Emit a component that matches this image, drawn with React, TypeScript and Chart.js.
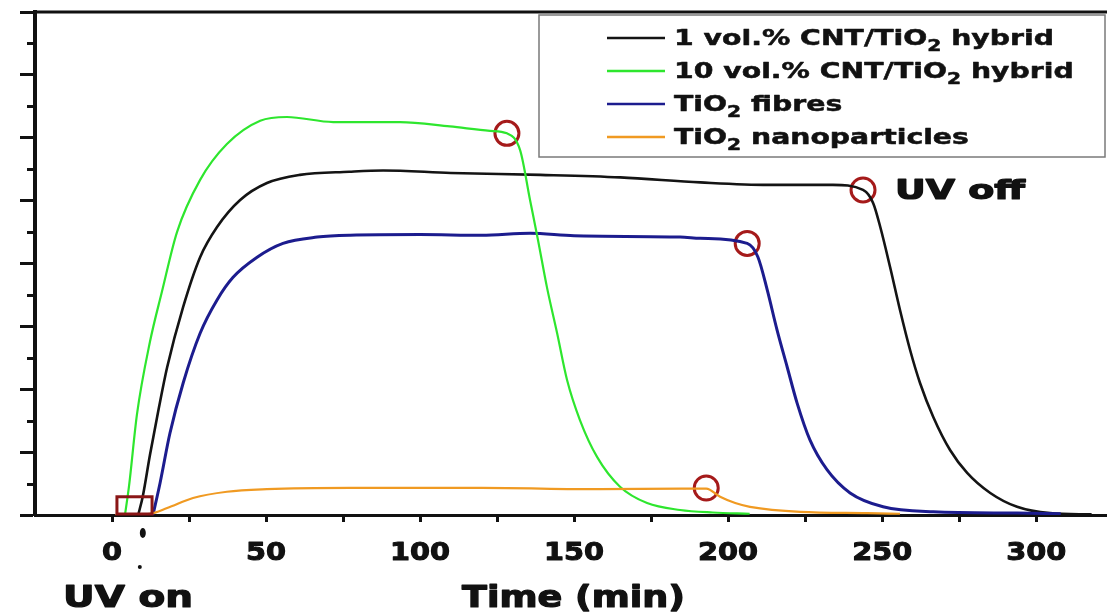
import React, { useEffect, useRef } from "react";
import { Chart, registerables } from "chart.js";

Chart.register(...registerables);

// ---- data (time in min, signal in arbitrary units) ----
const blackT = [8.5, 10, 12.3, 15, 17.9, 23.1, 28.6, 34.1, 41.6, 50.3, 61, 77, 88, 110, 139, 165, 191, 213, 234, 243.8, 247.1, 249.4, 252.6, 255.8, 259.1, 262.3, 266.6, 272.1, 277.6, 285.1, 293.8, 304.5, 318];
const blackV = [0, 0.3, 0.95, 1.65, 2.35, 3.31, 4.1, 4.58, 5.01, 5.28, 5.41, 5.46, 5.48, 5.44, 5.41, 5.37, 5.29, 5.25, 5.25, 5.17, 4.96, 4.58, 3.94, 3.26, 2.62, 2.1, 1.56, 1.03, 0.67, 0.35, 0.13, 0.03, 0.01];

const greenT = [4.2, 5.5, 8.1, 12.3, 16.2, 21.1, 28.6, 37.3, 48.1, 56.8, 71.8, 93.5, 109.7, 122.7, 128.2, 132.5, 135.7, 138.3, 141.2, 144.5, 147.7, 151.9, 157.5, 164.9, 173.7, 184.4, 195, 207];
const greenV = [0, 0.45, 1.6, 2.75, 3.55, 4.5, 5.33, 5.9, 6.27, 6.33, 6.25, 6.25, 6.18, 6.11, 6.07, 5.8, 5.01, 4.37, 3.62, 2.89, 2.15, 1.51, 0.92, 0.45, 0.19, 0.08, 0.04, 0.02];

const blueT = [13.3, 15.6, 18.8, 23.1, 28.6, 34.1, 39.3, 47.1, 55.5, 66.6, 77.3, 100, 120, 135.7, 150, 184.4, 190.9, 206.2, 209.7, 212.7, 215.9, 219.2, 222.4, 226.6, 232.1, 239.6, 250.3, 266.6, 293.8, 308];
const blueV = [0, 0.51, 1.3, 2.1, 2.89, 3.42, 3.78, 4.1, 4.32, 4.42, 4.45, 4.46, 4.45, 4.48, 4.44, 4.42, 4.4, 4.32, 4.1, 3.58, 2.94, 2.35, 1.78, 1.19, 0.72, 0.35, 0.13, 0.05, 0.03, 0.02];

const orangeT = [1, 12.3, 17.9, 26.3, 37.3, 50.3, 77.3, 120, 158.4, 185, 192.9, 197.4, 202.3, 207.1, 223.4, 245.1, 255.8];
const orangeV = [0, 0.02, 0.11, 0.27, 0.37, 0.41, 0.43, 0.43, 0.41, 0.42, 0.42, 0.29, 0.19, 0.13, 0.05, 0.03, 0.02];

// UV-off markers (red circles)
const uvOffT = [128.2, 243.8, 206.2, 192.9];
const uvOffV = [6.07, 5.17, 4.32, 0.43];

// UV-on box near the origin
const uvOnBoxT = [1.6, 13];
const uvOnBoxV = [0, 0.29];

const seriesLabels = [
  "1 vol.% CNT/TiO2 hybrid",
  "10 vol.% CNT/TiO2 hybrid",
  "TiO2 fibres",
  "TiO2 nanoparticles",
];
const seriesColors = ["#141414", "#2ee62e", "#1c1c8e", "#f09a22"];

const xTickValues = [0, 25, 50, 75, 100, 125, 150, 175, 200, 225, 250, 275, 300];
const xTickLabels = ["0", "50", "100", "150", "200", "250", "300"];
const yMajorTicks = [0, 1, 2, 3, 4, 5, 6, 7, 8];
const yMinorTicks = [0.5, 1.5, 2.5, 3.5, 4.5, 5.5, 6.5, 7.5];

const xTitle = "Time (min)";
const uvOnText = "UV on";
const uvOffText = "UV off";

const FONT = "'DejaVu Sans', 'Liberation Sans', sans-serif";
const INK = "#111111";
const RED = "#a51a1a";

function toPoints(t: number[], v: number[]) {
  return t.map((x, i) => ({ x, y: v[i] }));
}

function drawStretched(
  ctx: CanvasRenderingContext2D,
  text: string,
  x: number,
  baseline: number,
  font: string,
  targetWidth: number,
  align: "left" | "center",
  weight = 1.2
) {
  ctx.save();
  ctx.font = font;
  const w = ctx.measureText(text).width;
  const sx = targetWidth / w;
  const left = align === "center" ? x - targetWidth / 2 : x;
  ctx.translate(left, baseline);
  ctx.scale(sx, 1);
  ctx.textAlign = "left";
  ctx.textBaseline = "alphabetic";
  ctx.lineJoin = "round";
  ctx.lineWidth = weight;
  ctx.strokeStyle = ctx.fillStyle as string;
  ctx.strokeText(text, 0, 0);
  ctx.fillText(text, 0, 0);
  ctx.restore();
}

// text with "TiO2" rendered with a subscript 2
function subParts(label: string) {
  const parts: { t: string; sub: boolean }[] = [];
  const pieces = label.split("TiO2");
  pieces.forEach((p, i) => {
    if (i > 0) {
      parts.push({ t: "TiO", sub: false });
      parts.push({ t: "2", sub: true });
    }
    if (p) parts.push({ t: p, sub: false });
  });
  return parts;
}

function measureParts(ctx: CanvasRenderingContext2D, label: string, size: number) {
  let w = 0;
  for (const p of subParts(label)) {
    ctx.font = `bold ${p.sub ? Math.round(size * 0.72) : size}px ${FONT}`;
    w += ctx.measureText(p.t).width;
  }
  return w;
}

function drawParts(ctx: CanvasRenderingContext2D, label: string, x: number, baseline: number, size: number, sx: number) {
  ctx.save();
  ctx.translate(x, baseline);
  ctx.scale(sx, 1);
  ctx.textAlign = "left";
  ctx.textBaseline = "alphabetic";
  ctx.lineJoin = "round";
  ctx.lineWidth = 0.5;
  ctx.strokeStyle = ctx.fillStyle as string;
  let cx = 0;
  for (const p of subParts(label)) {
    ctx.font = `bold ${p.sub ? Math.round(size * 0.72) : size}px ${FONT}`;
    const dy = p.sub ? size * 0.28 : 0;
    ctx.strokeText(p.t, cx, dy);
    ctx.fillText(p.t, cx, dy);
    cx += ctx.measureText(p.t).width;
  }
  ctx.restore();
}

const decorations = {
  id: "decorations",
  afterDraw(chart: any) {
    const ctx: CanvasRenderingContext2D = chart.ctx;
    const xs = chart.scales.x;
    const ys = chart.scales.y;
    const area = chart.chartArea;
    ctx.save();

    // top frame line
    ctx.strokeStyle = INK;
    ctx.lineWidth = 3;
    ctx.beginPath();
    ctx.moveTo(area.left - 2, area.top);
    ctx.lineTo(area.right, area.top);
    ctx.stroke();

    // minor y ticks
    ctx.lineWidth = 3;
    for (const v of yMinorTicks) {
      const py = Math.round(ys.getPixelForValue(v)) + 0.5;
      ctx.beginPath();
      ctx.moveTo(area.left - 8, py);
      ctx.lineTo(area.left, py);
      ctx.stroke();
    }

    // x tick labels
    ctx.fillStyle = INK;
    ctx.font = `bold 24px ${FONT}`;
    const sxTick = 60 / ctx.measureText("100").width;
    for (const lab of xTickLabels) {
      const px = xs.getPixelForValue(Number(lab));
      ctx.font = `bold 24px ${FONT}`;
      const w = ctx.measureText(lab).width * sxTick;
      drawStretched(ctx, lab, px, 560, `bold 24px ${FONT}`, w, "center", 1.0);
    }

    // axis title and annotations
    drawStretched(ctx, xTitle, 462, 607, `bold 30px ${FONT}`, 223, "left", 1.2);
    drawStretched(ctx, uvOnText, 63, 607, `bold 31px ${FONT}`, 130, "left", 1.2);
    drawStretched(ctx, uvOffText, 895, 199, `bold 26px ${FONT}`, 130, "left", 1.2);

    // UV-on box
    ctx.strokeStyle = "#8a1616";
    ctx.lineWidth = 3;
    const bx0 = xs.getPixelForValue(uvOnBoxT[0]);
    const bx1 = xs.getPixelForValue(uvOnBoxT[1]);
    const by0 = ys.getPixelForValue(uvOnBoxV[1]);
    const by1 = ys.getPixelForValue(uvOnBoxV[0]);
    ctx.strokeRect(bx0, by0, bx1 - bx0, by1 - by0 - 1);

    // UV-on pointer marks below the axis
    ctx.fillStyle = INK;
    const ux = xs.getPixelForValue(10);
    ctx.beginPath();
    ctx.ellipse(ux, area.bottom + 18, 3, 5, 0, 0, Math.PI * 2);
    ctx.fill();
    ctx.beginPath();
    ctx.arc(ux - 3, area.bottom + 52, 2, 0, Math.PI * 2);
    ctx.fill();

    // legend box
    const lx = 539, ly = 15, lw = 566, lh = 142;
    ctx.fillStyle = "#ffffff";
    ctx.fillRect(lx, ly, lw, lh);
    ctx.strokeStyle = "#7a7a7a";
    ctx.lineWidth = 1.5;
    ctx.strokeRect(lx, ly, lw, lh);

    const size = 21;
    const sxLeg = 380 / measureParts(ctx, seriesLabels[0], size);
    const baselines = [45, 78, 111, 144];
    seriesLabels.forEach((lab, i) => {
      const b = baselines[i];
      ctx.strokeStyle = seriesColors[i];
      ctx.lineWidth = 2.5;
      ctx.beginPath();
      ctx.moveTo(607, b - 7);
      ctx.lineTo(665, b - 7);
      ctx.stroke();
      ctx.fillStyle = INK;
      drawParts(ctx, lab, 674, b, size, sxLeg);
    });

    ctx.restore();
  },
};

export default function App() {
  const canvasRef = useRef<HTMLCanvasElement>(null);

  useEffect(() => {
    document.body.style.margin = "0";
    const canvas = canvasRef.current;
    if (!canvas) return;

    const line = (i: number, t: number[], v: number[], w: number) => ({
      label: seriesLabels[i],
      data: toPoints(t, v),
      borderColor: seriesColors[i],
      backgroundColor: seriesColors[i],
      borderWidth: w,
      pointRadius: 0,
      fill: false,
      cubicInterpolationMode: "monotone" as const,
    });

    const chart = new Chart(canvas, {
      type: "line",
      data: {
        datasets: [
          line(3, orangeT, orangeV, 2.2),
          line(1, greenT, greenV, 2.2),
          line(2, blueT, blueV, 3),
          line(0, blackT, blackV, 2.6),
          {
            label: "UV off",
            data: toPoints(uvOffT, uvOffV),
            showLine: false,
            pointRadius: 12,
            pointBorderWidth: 3,
            pointBorderColor: RED,
            pointBackgroundColor: "rgba(0,0,0,0)",
            borderColor: RED,
          } as any,
        ],
      },
      options: {
        animation: false,
        responsive: true,
        maintainAspectRatio: false,
        events: [],
        layout: { autoPadding: false, padding: { top: 12, left: 0, right: 0, bottom: 0 } },
        plugins: { legend: { display: false }, tooltip: { enabled: false } },
        scales: {
          x: {
            type: "linear",
            min: -25,
            max: 323,
            afterBuildTicks: (s: any) => {
              s.ticks = xTickValues.map((v) => ({ value: v }));
            },
            afterFit: (s: any) => {
              s.height = 97;
            },
            grid: { drawOnChartArea: false, drawTicks: true, tickLength: 7, tickWidth: 3, tickColor: INK },
            border: { display: true, color: INK, width: 3 },
            ticks: { display: false },
          },
          y: {
            type: "linear",
            min: 0,
            max: 8,
            afterBuildTicks: (s: any) => {
              s.ticks = yMajorTicks.map((v) => ({ value: v }));
            },
            afterFit: (s: any) => {
              s.width = 35;
            },
            grid: { drawOnChartArea: false, drawTicks: true, tickLength: 15, tickWidth: 3, tickColor: INK },
            border: { display: true, color: INK, width: 4 },
            ticks: { display: false },
          },
        },
      } as any,
      plugins: [decorations],
    });

    return () => chart.destroy();
  }, []);

  return (
    <div style={{ width: 1107, height: 612, position: "relative", overflow: "hidden", background: "#fff" }}>
      <canvas ref={canvasRef} />
    </div>
  );
}
